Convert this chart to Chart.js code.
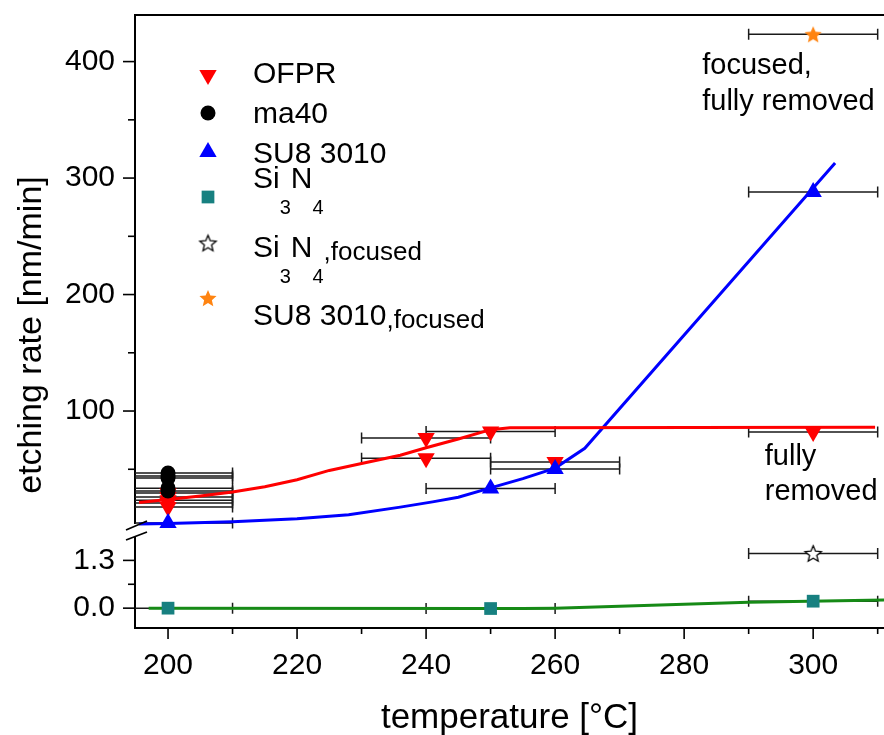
<!DOCTYPE html>
<html>
<head>
<meta charset="utf-8">
<script src="https://cdn.jsdelivr.net/npm/chart.js@4.4.1/dist/chart.umd.min.js"></script>
<style>
  html, body { margin: 0; padding: 0; background: #fff; }
</style>
</head>
<body>
<canvas id="etchChart" width="884" height="735"></canvas>
<script>
// ---- data ----
const xMajor = [200, 220, 240, 260, 280, 300];
const xMinor = [210, 230, 250, 270, 290, 310];
const upperMajor = [100, 200, 300, 400];
const upperMinor = [50, 150, 250, 350];
const lowerMajor = [0, 1.3];
const lowerMinor = [0.65];

const ofprT = [200, 200, 200, 200, 200, 240, 240, 250, 260, 300];
const ofprRate = [29.6, 26.1, 23.5, 21, 17.5, 76.8, 59.4, 82.5, 56.2, 82];
const ofprErr = [10, 10, 10, 10, 10, 10, 10, 10, 10, 10];

const ma40T = [200, 200, 200, 200, 200];
const ma40Rate = [46.7, 44.2, 42.4, 33.8, 31.3];
const ma40Err = [10, 10, 10, 10, 10];

const su8T = [200, 250, 260, 300];
const su8Rate = [3.8, 33.5, 50.2, 288];
const su8Err = [10, 10, 10, 10];

const si3n4T = [200, 250, 300];
const si3n4Rate = [0, -0.01, 0.19];
const si3n4Err = [10, 10, 10];

const si3n4FocT = [300];
const si3n4FocRate = [1.49];
const si3n4FocErr = [10];

const su8FocT = [300];
const su8FocRate = [423.5];
const su8FocErr = [10];

// fitted guide lines
const ofprFitT = [195.5, 200, 205, 210, 215, 220, 225, 230, 236, 240, 245, 250, 253, 309.6];
const ofprFitRate = [21.5, 24, 27, 30.5, 35, 41, 49, 55, 62, 68.5, 76, 84, 85.6, 86];
const su8FitT = [195.5, 200, 210, 220, 228, 236, 241, 245, 250, 255, 260, 264.6, 303.4];
const su8FitRate = [3, 3.5, 5, 7.5, 11, 17.5, 22, 26, 34, 42, 51, 68, 313];
const si3n4FitT = [197, 250, 255, 260, 290, 311];
const si3n4FitRate = [0, -0.01, -0.01, 0, 0.16, 0.22];

// legend text: [text, kind] kind 0 = normal, 1 = subscript digit, 2 = lowered small
const legendLabels = [
  [['OFPR', 0]],
  [['ma40', 0]],
  [['SU8 3010', 0]],
  [['Si', 0], ['3', 1], ['N', 0], ['4', 1]],
  [['Si', 0], ['3', 1], ['N', 0], ['4', 1], [',focused', 2]],
  [['SU8 3010', 0], [',focused', 2]]
];

const FONT = "'Liberation Sans', Arial, Helvetica, sans-serif";
const RED = '#ff0000';
const BLUE = '#0000ff';
const TEAL = '#178080';
const ORANGE = '#ff8411';
const GREEN = '#168a16';

function makeStar(fill, stroke, r) {
  const size = Math.ceil(r * 2 + 4);
  const c = document.createElement('canvas');
  c.width = c.height = size;
  const g = c.getContext('2d');
  const cx = size / 2, cy = size / 2 + r * 0.1;
  g.beginPath();
  for (let i = 0; i < 10; i++) {
    const rr = i % 2 ? r * 0.45 : r;
    const a = -Math.PI / 2 + i * Math.PI / 5;
    g.lineTo(cx + rr * Math.cos(a), cy + rr * Math.sin(a));
  }
  g.closePath();
  g.fillStyle = fill;
  g.fill();
  if (stroke) {
    g.strokeStyle = stroke;
    g.lineWidth = 1.3;
    g.stroke();
  }
  return c;
}

const openStar = makeStar('#fff', '#000', 8.5);
const orangeStar = makeStar(ORANGE, null, 9);

const pts = (xs, ys) => xs.map((x, i) => ({ x, y: ys[i] }));

const marker = (extra) => Object.assign({
  showLine: false,
  pointBorderWidth: 0,
  yAxisID: 'y'
}, extra);

const fitLine = (extra) => Object.assign({
  showLine: true,
  pointRadius: 0,
  borderWidth: 3,
  tension: 0,
  yAxisID: 'y',
  order: 10
}, extra);

// no automatic label padding, the plot area is fixed
const noPad = s => { s.paddingTop = 0; s.paddingBottom = 0; s.paddingLeft = 0; s.paddingRight = 0; };

// horizontal error bars, drawn under lines and markers
const errorBars = {
  id: 'errorBars',
  beforeDatasetsDraw(chart) {
    const { ctx, chartArea: a, scales } = chart;
    ctx.save();
    ctx.beginPath();
    ctx.rect(a.left, a.top - 10, a.right - a.left, a.bottom - a.top + 10);
    ctx.clip();
    ctx.strokeStyle = '#1a1a1a';
    ctx.lineWidth = 1.5;
    chart.data.datasets.forEach(ds => {
      if (!ds.xErr) return;
      const ys = scales[ds.yAxisID];
      ds.data.forEach((p, i) => {
        const x1 = scales.x.getPixelForValue(p.x - ds.xErr[i]);
        const x2 = scales.x.getPixelForValue(p.x + ds.xErr[i]);
        const y = ys.getPixelForValue(p.y);
        ctx.beginPath();
        ctx.moveTo(x1, y); ctx.lineTo(x2, y);
        ctx.moveTo(x1, y - 5.5); ctx.lineTo(x1, y + 5.5);
        ctx.moveTo(x2, y - 5.5); ctx.lineTo(x2, y + 5.5);
        ctx.stroke();
      });
    });
    ctx.restore();
  }
};

function drawRich(ctx, parts, x, y) {
  parts.forEach(([t, kind]) => {
    let size = 30, dy = 0;
    if (kind === 1) { size = 20; dy = 26; }
    if (kind === 2) { size = 26; dy = 3; }
    ctx.font = size + 'px ' + FONT;
    ctx.fillText(t, x, y + dy);
    x += ctx.measureText(t).width;
  });
}

const decorations = {
  id: 'decorations',
  afterDraw(chart) {
    const { ctx, chartArea: a, scales } = chart;
    ctx.save();
    ctx.strokeStyle = '#000';
    ctx.fillStyle = '#000';

    // tick marks
    ctx.lineWidth = 1.6;
    const yTicks = (s, vals, len) => vals.forEach(v => {
      const y = s.getPixelForValue(v);
      ctx.beginPath(); ctx.moveTo(a.left - len, y); ctx.lineTo(a.left, y); ctx.stroke();
    });
    const xTicks = (vals, len) => vals.forEach(v => {
      const x = scales.x.getPixelForValue(v);
      ctx.beginPath(); ctx.moveTo(x, a.bottom); ctx.lineTo(x, a.bottom + len); ctx.stroke();
    });
    yTicks(scales.y, upperMajor, 12);
    yTicks(scales.y, upperMinor, 7);
    yTicks(scales.y2, lowerMajor, 12);
    yTicks(scales.y2, lowerMinor, 7);
    xTicks(xMajor, 11);
    xTicks(xMinor, 6);

    // top frame
    ctx.lineWidth = 2;
    ctx.beginPath(); ctx.moveTo(a.left - 1, a.top); ctx.lineTo(a.right, a.top); ctx.stroke();

    // axis break
    const b = scales.y.bottom;
    ctx.fillStyle = '#fff';
    ctx.fillRect(a.left - 3, b - 7, 6, 13);
    ctx.fillStyle = '#000';
    ctx.lineWidth = 1.8;
    ctx.beginPath();
    ctx.moveTo(a.left - 9, b - 1); ctx.lineTo(a.left + 12, b - 10);
    ctx.moveTo(a.left - 9, b + 9); ctx.lineTo(a.left + 12, b + 1);
    ctx.stroke();

    // axis titles
    ctx.textAlign = 'center';
    ctx.textBaseline = 'alphabetic';
    ctx.font = '35px ' + FONT;
    ctx.fillText('temperature [°C]', (a.left + a.right) / 2, 728);
    ctx.save();
    ctx.translate(41, 335);
    ctx.rotate(-Math.PI / 2);
    ctx.font = '34px ' + FONT;
    ctx.fillText('etching rate [nm/min]', 0, 0);
    ctx.restore();

    // annotations
    ctx.textAlign = 'left';
    ctx.font = '29px ' + FONT;
    const tx = (t, v, s, text) => ctx.fillText(text, scales.x.getPixelForValue(t), s.getPixelForValue(v));
    tx(282.8, 389, scales.y, 'focused,');
    tx(282.8, 358.5, scales.y, 'fully removed');
    tx(292.5, 53.5, scales.y, 'fully');
    tx(292.5, 23.5, scales.y, 'removed');

    // legend
    const rowMarkY = [75, 113, 152, 197, 243, 298];
    const rowTextY = [83, 123, 163, 188, 257, 325];
    const order = [1, 2, 0, 3, 4, 5];
    order.forEach((di, row) => {
      const ds = chart.data.datasets[di];
      const opts = {
        pointStyle: ds.pointStyle,
        rotation: ds.pointRotation || 0,
        radius: ds.pointRadius,
        borderWidth: 0
      };
      ctx.fillStyle = ds.pointBackgroundColor;
      ctx.strokeStyle = ds.pointBackgroundColor;
      Chart.helpers.drawPoint(ctx, opts, 208, rowMarkY[row]);
      ctx.fillStyle = '#000';
      drawRich(ctx, legendLabels[row], 253, rowTextY[row]);
    });
    ctx.restore();
  }
};

const tickFont = { family: FONT, size: 30 };

new Chart(document.getElementById('etchChart'), {
  type: 'scatter',
  data: {
    datasets: [
      marker({ label: 'SU8 3010', data: pts(su8T, su8Rate), xErr: su8Err, pointStyle: 'triangle',
        pointRadius: 10, pointBackgroundColor: BLUE, order: 0 }),
      marker({ label: 'OFPR', data: pts(ofprT, ofprRate), xErr: ofprErr, pointStyle: 'triangle',
        pointRotation: 180, pointRadius: 10, pointBackgroundColor: RED, order: 2 }),
      marker({ label: 'ma40', data: pts(ma40T, ma40Rate), xErr: ma40Err, pointStyle: 'circle',
        pointRadius: 7.5, pointBackgroundColor: '#000', order: 1 }),
      marker({ label: 'Si3N4', data: pts(si3n4T, si3n4Rate), xErr: si3n4Err, pointStyle: 'rect',
        pointRadius: 9, pointBackgroundColor: TEAL, yAxisID: 'y2', order: 3 }),
      marker({ label: 'Si3N4,focused', data: pts(si3n4FocT, si3n4FocRate), xErr: si3n4FocErr,
        pointStyle: openStar, pointRadius: 9, pointBackgroundColor: '#000', yAxisID: 'y2', order: 4 }),
      marker({ label: 'SU8 3010,focused', data: pts(su8FocT, su8FocRate), xErr: su8FocErr,
        pointStyle: orangeStar, pointRadius: 9, pointBackgroundColor: ORANGE, order: 5 }),
      fitLine({ label: 'OFPR fit', data: pts(ofprFitT, ofprFitRate), borderColor: RED }),
      fitLine({ label: 'SU8 fit', data: pts(su8FitT, su8FitRate), borderColor: BLUE }),
      fitLine({ label: 'Si3N4 fit', data: pts(si3n4FitT, si3n4FitRate), borderColor: GREEN, yAxisID: 'y2' })
    ]
  },
  options: {
    responsive: false,
    animation: false,
    events: [],
    layout: { autoPadding: false, padding: { top: 15, right: 0, bottom: 0, left: 0 } },
    plugins: { legend: { display: false }, tooltip: { enabled: false } },
    scales: {
      x: {
        type: 'linear', position: 'bottom', min: 194.88, max: 310.98,
        grid: { display: false, drawTicks: false },
        border: { display: true, color: '#000', width: 2 },
        ticks: { font: tickFont, color: '#000', padding: 20, maxRotation: 0 },
        afterBuildTicks: s => { s.ticks = xMajor.map(v => ({ value: v })); },
        afterFit: s => { s.height = 107; noPad(s); }
      },
      y2: {
        type: 'linear', position: 'left', stack: 'rate', stackWeight: 97,
        min: -0.54, max: 2.1,
        grid: { display: false, drawTicks: false },
        border: { display: true, color: '#000', width: 2 },
        ticks: { font: tickFont, color: '#000', padding: 20, callback: v => v.toFixed(1) },
        afterBuildTicks: s => { s.ticks = lowerMajor.map(v => ({ value: v })); },
        afterFit: s => { s.width = 135; noPad(s); }
      },
      y: {
        type: 'linear', position: 'left', stack: 'rate', stackWeight: 516,
        min: -3, max: 440,
        grid: { display: false, drawTicks: false },
        border: { display: true, color: '#000', width: 2 },
        ticks: { font: tickFont, color: '#000', padding: 20 },
        afterBuildTicks: s => { s.ticks = upperMajor.map(v => ({ value: v })); },
        afterFit: s => { s.width = 135; noPad(s); }
      }
    }
  },
  plugins: [errorBars, decorations]
});
</script>
</body>
</html>
